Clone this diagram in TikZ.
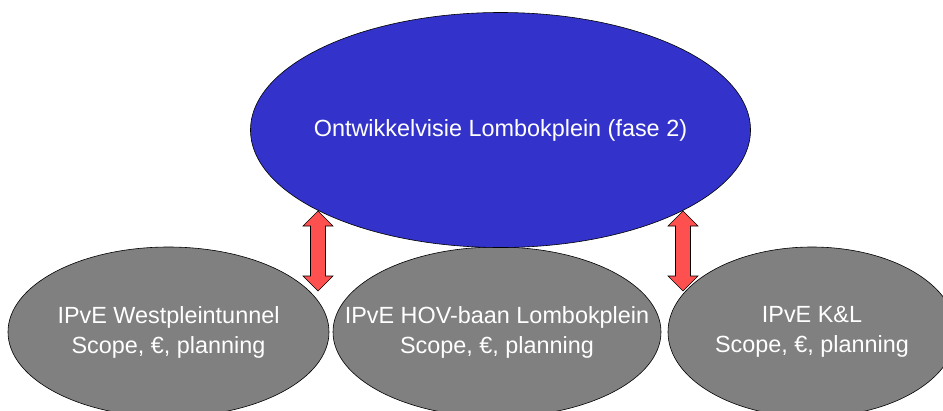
\documentclass[tikz,border=0pt]{standalone}
\usepackage{fontspec}
\setmainfont{Liberation Sans}
\usetikzlibrary{shapes.geometric}
\definecolor{visieblauw}{HTML}{3333CC}
\definecolor{ipvegrijs}{HTML}{808080}
\definecolor{pijlrood}{HTML}{FF5050}

\begin{document}
\begin{tikzpicture}[x=1pt,y=-1pt,
  bol/.style={ellipse,draw=black,line width=0.6pt,inner sep=0pt},
  ipve/.style={bol,fill=ipvegrijs,minimum height=170pt},
  txt/.style={text=white,font=\fontsize{23.4}{30}\selectfont,align=center},
  pijl/.style={fill=pijlrood,draw=black,line width=0.6pt,line join=miter}]
\useasboundingbox (0,0) rectangle (943,410);
\fill[white] (0,0) rectangle (943,410);
% onderste ellipsen
\node[ipve,minimum width=321pt] (west) at (168.5,332) {};
\node[ipve,minimum width=328pt] (hov) at (497,332) {};
\node[ipve,minimum width=288pt] (kl) at (812,332) {};
\node[txt] (west-txt) at (west.center) {IPvE Westpleintunnel\\Scope, €, planning};
\node[txt] (hov-txt) at (hov.center) {IPvE HOV-baan Lombokplein\\Scope, €, planning};
\node[txt] (kl-txt) at (kl.center) {IPvE K\&L\\Scope, €, planning};
% bovenste ellips
\node[bol,fill=visieblauw,minimum width=500pt,minimum height=235pt] (visie) at (500.5,130) {};
\node[txt] (visie-txt) at (visie.center) {Ontwikkelvisie Lombokplein (fase 2)};
% dubbele pijlen
\foreach \n/\ax in {links/318,rechts/683}{
  \coordinate (\n-top) at (\ax,211);
  \coordinate (\n-bot) at (\ax,291);
  \draw[pijl] (\n-top) -- ++(15,15) -- ++(-7.5,0) -- ++(0,50) -- ++(7.5,0)
    -- (\n-bot) -- ++(-15,-15) -- ++(7.5,0) -- ++(0,-50) -- ++(-7.5,0) -- cycle;
}
\end{tikzpicture}
\end{document}
